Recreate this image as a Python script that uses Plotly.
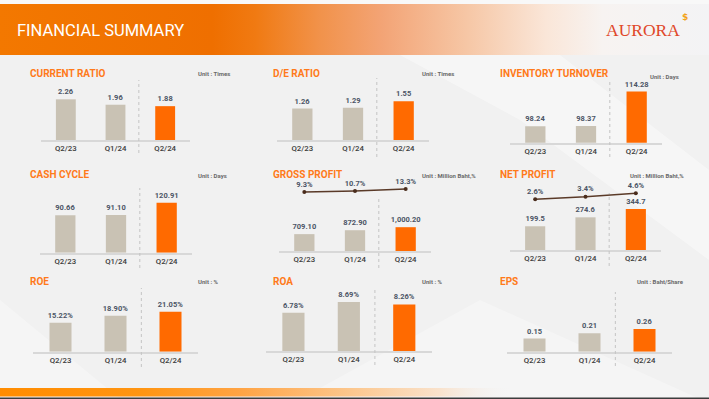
import plotly.graph_objects as go

# ---------------- data ----------------
categories = ["Q2/23", "Q1/24", "Q2/24"]

current_ratio = [2.26, 1.96, 1.88]
de_ratio = [1.26, 1.29, 1.55]
inventory_turnover = [98.24, 98.37, 114.28]
cash_cycle = [90.66, 91.10, 120.91]
gross_profit = [709.10, 872.90, 1000.20]
gross_margin = [9.3, 10.7, 13.3]
net_profit = [199.5, 274.6, 344.7]
net_margin = [2.6, 3.4, 4.6]
roe = [15.22, 18.90, 21.05]
roa = [6.78, 8.69, 8.26]
eps = [0.15, 0.21, 0.26]

titles = ["CURRENT RATIO", "D/E RATIO", "INVENTORY TURNOVER",
          "CASH CYCLE", "GROSS PROFIT", "NET PROFIT",
          "ROE", "ROA", "EPS"]
units = ["Unit : Times", "Unit : Times", "Unit : Days",
         "Unit : Days", "Unit : Million Baht,%", "Unit : Million Baht,%",
         "Unit : %", "Unit : %", "Unit : Baht/Share"]
series = [current_ratio, de_ratio, inventory_turnover,
          cash_cycle, gross_profit, net_profit,
          roe, roa, eps]
formats = ["{:.2f}", "{:.2f}", "{:.2f}",
           "{:.2f}", "{:,.2f}", "{:.1f}",
           "{:.2f}%", "{:.2f}%", "{:.2f}"]
line_series = {4: gross_margin, 5: net_margin}

# ---------------- layout geometry (pixels) ----------------
W, H = 709, 399
GEOM = [
    dict(x0=41, x1=190, yb=140.0, s=18.0, base=0, tx=28, ty=73.5, ux=196, uy=73.5, d0=80, d1=153),
    dict(x0=277, x1=429, yb=140.0, s=25.0, base=0, tx=270.5, ty=73.5, ux=420, uy=73.5, d0=78, d1=157),
    dict(x0=510, x1=662, yb=142.7, s=2.157, base=90.6, tx=498, ty=73.5, ux=648, uy=76, d0=80, d1=157),
    dict(x0=40, x1=192, yb=252.7, s=0.413, base=0, tx=28, ty=174.5, ux=196, uy=175, d0=188, d1=268),
    dict(x0=279, x1=431, yb=251.0, s=0.0238, base=0, tx=270.5, ty=174.5, ux=420, uy=175, d0=198, d1=268),
    dict(x0=510, x1=661, yb=250.0, s=0.119, base=0, tx=498, ty=174.5, ux=628, uy=175, d0=193, d1=266),
    dict(x0=33, x1=198, yb=351.7, s=1.90, base=0, tx=28, ty=281.7, ux=196, uy=281, d0=288, d1=367),
    dict(x0=265.7, x1=432, yb=351.0, s=5.64, base=0, tx=270.5, ty=281.7, ux=419.7, uy=281, d0=288, d1=365),
    dict(x0=507, x1=672, yb=351.7, s=87.3, base=0, tx=498, ty=281.7, ux=634.7, uy=281, d0=292, d1=366),
]
# line axes: pixel of domain bottom/top and value range
LINE_GEOM = {4: dict(pb=205, pt=175, r=[-8.03, 31.97]),
             5: dict(pb=212, pt=182, r=[-1.67, 8.33])}
PLOT_H = 80

GRAY = "#C9C2B4"
ORANGE = "#FF6A00"
TITLE_C = "#FF7A1A"
VAL_C = "#4C5566"
TICK_C = "#3A3A3A"
FONT = "Roboto"


def fx(p):
    return p / W


def fy(p):
    return 1 - p / H


fig = go.Figure()

# ---------------- background decoration (axis x/y covers the page) ----------------
fig.add_trace(go.Scatter(x=[0, 709, 709, 0, 0], y=[0, 0, 4, 4, 0], fill="toself",
                         fillcolor="#F8F8F8", mode="lines", line=dict(width=0),
                         hoverinfo="skip", showlegend=False, xaxis="x", yaxis="y"))
for poly, col in [
    (([400, 560, 709, 709, 520], [55, 55, 170, 260, 120]), "rgba(255,255,255,0.4)"),
    (([300, 480, 700, 560], [399, 300, 399, 399]), "rgba(255,255,255,0.3)"),
    (([0, 120, 0], [300, 399, 399]), "rgba(255,255,255,0.3)"),
]:
    fig.add_trace(go.Scatter(x=poly[0] + [poly[0][0]], y=poly[1] + [poly[1][0]], fill="toself",
                             fillcolor=col, mode="lines", line=dict(width=0),
                             hoverinfo="skip", showlegend=False, xaxis="x", yaxis="y"))
fig.add_trace(go.Scatter(
    x=[0, 709, 709, 0, 0], y=[4, 4, 55, 55, 4], fill="toself", mode="lines",
    line=dict(width=0), hoverinfo="skip", showlegend=False, xaxis="x", yaxis="y",
    fillgradient=dict(type="horizontal", colorscale=[
        [0, "#F37800"], [0.30, "#EF6F00"], [0.36, "#F07A12"], [0.45, "#F1924A"],
        [0.54, "#F3A476"], [0.66, "#F6C7A6"], [0.77, "#FAE6D8"], [0.85, "#F7F3F1"],
        [1, "#F3F3F5"]])))
fig.add_trace(go.Scatter(
    x=[0, 709, 709, 0, 0], y=[388, 388, 396.5, 396.5, 388], fill="toself", mode="lines",
    line=dict(width=0), hoverinfo="skip", showlegend=False, xaxis="x", yaxis="y",
    fillgradient=dict(type="horizontal", colorscale=[
        [0, "#FF8C00"], [0.2, "#FF9512"], [0.34, "#FFA445"], [0.5, "#FCC890"],
        [0.62, "#F9E2CC"], [0.72, "rgba(242,242,242,0)"], [1, "rgba(242,242,242,0)"]])))

layout = dict(
    width=W, height=H, autosize=False,
    margin=dict(l=0, r=0, t=0, b=0),
    paper_bgcolor="#F1F1F1", plot_bgcolor="rgba(0,0,0,0)",
    showlegend=False,
    xaxis=dict(domain=[0, 1], range=[0, W], visible=False, fixedrange=True),
    yaxis=dict(domain=[0, 1], range=[H, 0], visible=False, fixedrange=True),
)

annotations = [
    dict(text="FINANCIAL SUMMARY", x=fx(15), y=fy(30.5), xref="paper", yref="paper",
         xanchor="left", yanchor="middle", showarrow=False,
         font=dict(family=FONT, size=16.5, color="white")),
    dict(text="AURORA", x=fx(681), y=fy(29.5), xref="paper", yref="paper",
         xanchor="right", yanchor="middle", showarrow=False, borderpad=0,
         font=dict(family="Liberation Serif", size=17.5, color="#E0482A")),
    dict(text="<b>$</b>", x=fx(684.5), y=fy(17), xref="paper", yref="paper",
         xanchor="center", yanchor="middle", showarrow=False, borderpad=0,
         font=dict(family="DejaVu Sans", size=9, color="#F2A31B")),
]
shapes = [dict(type="rect", xref="paper", yref="paper", x0=0, x1=1, y0=0, y1=fy(397.6),
               fillcolor="#3C3C3C", line=dict(width=0), layer="above")]

for i, g in enumerate(GEOM):
    k = i + 2
    vals = series[i]
    fig.add_trace(go.Bar(
        x=categories, y=vals, xaxis=f"x{k}", yaxis=f"y{k}",
        marker=dict(color=[GRAY, GRAY, ORANGE], line=dict(width=0)),
        width=0.4,
        text=[formats[i].format(v) for v in vals], textposition="outside",
        textfont=dict(family=FONT, size=7.5, color=VAL_C, weight="bold"),
        constraintext="none", hoverinfo="skip", showlegend=False))
    layout[f"xaxis{k}"] = dict(
        domain=[fx(g["x0"]), fx(g["x1"])], anchor=f"y{k}", type="category",
        range=[-0.5, 2.5], showline=True, linecolor="#D8D8D8", linewidth=2,
        showgrid=False, zeroline=False, ticks="", fixedrange=True,
        tickfont=dict(family=FONT, size=7.8, color=TICK_C, weight=500))
    top = g["yb"] - PLOT_H
    layout[f"yaxis{k}"] = dict(
        domain=[fy(g["yb"]), fy(top)], anchor=f"x{k}",
        range=[g["base"], g["base"] + PLOT_H / g["s"]], visible=False, fixedrange=True)
    annotations.append(dict(
        text=f"<b>{titles[i]}</b>", x=fx(g["tx"]), y=fy(g["ty"]), xref="paper", yref="paper",
        xanchor="left", yanchor="middle", showarrow=False,
        font=dict(family=FONT, size=10, color=TITLE_C)))
    annotations.append(dict(
        text=f"<b>{units[i]}</b>", x=fx(g["ux"]), y=fy(g["uy"]), xref="paper", yref="paper",
        xanchor="left", yanchor="middle", showarrow=False,
        font=dict(family=FONT, size=6, color="#6A6A6A")))
    shapes.append(dict(type="line", xref=f"x{k}", yref="paper", x0=1.47, x1=1.47,
                       y0=fy(g["d1"]), y1=fy(g["d0"]),
                       line=dict(color="#C4C4C4", width=1, dash="dot")))

    if i in line_series:
        lk = 11 if i == 4 else 12
        lg = LINE_GEOM[i]
        lv = line_series[i]
        fig.add_trace(go.Scatter(
            x=categories, y=lv, xaxis=f"x{k}", yaxis=f"y{lk}",
            mode="lines+markers+text",
            line=dict(color="#5A3A28", width=1.5),
            marker=dict(color="#4A2C1C", size=4),
            text=[f"{v:.1f}%" for v in lv], textposition="top center",
            textfont=dict(family=FONT, size=7.5, color=VAL_C, weight="bold"),
            cliponaxis=False, hoverinfo="skip", showlegend=False))
        layout[f"yaxis{lk}"] = dict(
            domain=[fy(lg["pb"]), fy(lg["pt"])], anchor=f"x{k}",
            range=lg["r"], visible=False, fixedrange=True)

layout["annotations"] = annotations
layout["shapes"] = shapes
fig.update_layout(**layout)

fig.write_html(
    "out.html",
    config={"displayModeBar": False, "staticPlot": True},
    post_script="document.body.style.margin='0';document.body.style.overflow='hidden';",
)
